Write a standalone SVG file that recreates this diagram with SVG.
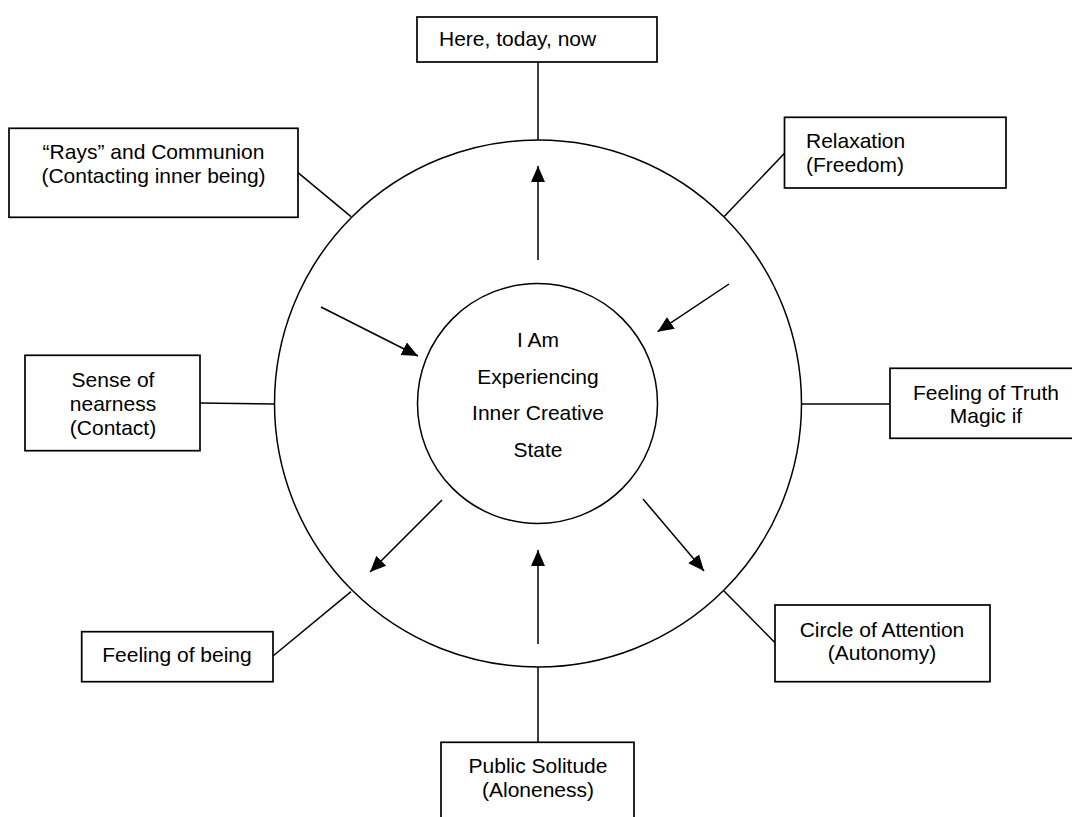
<svg xmlns="http://www.w3.org/2000/svg" width="1072" height="817" viewBox="0 0 1072 817">
<style>
.box{fill:#fff;stroke:#000;stroke-width:1.7}
.ring{fill:none;stroke:#000;stroke-width:1.5}
.ln{fill:none;stroke:#000;stroke-width:1.5}
.ar{fill:none;stroke:#000;stroke-width:1.5;marker-end:url(#ah)}
text{font-family:"Liberation Sans",Arial,sans-serif;font-size:21px;fill:#000}
.c{text-anchor:middle}
</style>
<defs>
<marker id="ah" markerUnits="userSpaceOnUse" markerWidth="18" markerHeight="18" viewBox="0 0 18 18" refX="16" refY="9" orient="auto">
<path d="M0,2 L16,9 L0,16 Z" fill="#000"/>
</marker>
</defs>
<rect width="1072" height="817" fill="#fff"/>
<g id="outer-circle"><circle class="ring" cx="538" cy="403.5" r="263.5"/></g>
<g id="connectors">
<line class="ln" x1="538" y1="62" x2="538" y2="140"/>
<line class="ln" x1="298" y1="172.7" x2="351" y2="216.7"/>
<line class="ln" x1="784.5" y1="153.3" x2="724" y2="216.7"/>
<line class="ln" x1="200" y1="403" x2="275" y2="404"/>
<line class="ln" x1="801" y1="404" x2="890" y2="404"/>
<line class="ln" x1="273" y1="656" x2="351" y2="591.7"/>
<line class="ln" x1="724" y1="591" x2="775" y2="642.7"/>
<line class="ln" x1="538" y1="667" x2="538" y2="742"/>
<line class="ar" x1="538" y1="260" x2="538" y2="166"/>
<line class="ar" x1="729" y1="284" x2="657.6" y2="331.7"/>
<line class="ar" x1="321" y1="307" x2="418" y2="356"/>
<line class="ar" x1="442" y1="500" x2="370" y2="572"/>
<line class="ar" x1="643" y1="499" x2="704" y2="571"/>
<line class="ar" x1="538" y1="644" x2="538" y2="550"/>
</g>
<g id="center">
<circle class="ring" cx="537.5" cy="403.5" r="120"/>
<text class="c" x="538" y="347">I Am</text>
<text class="c" x="538" y="383.5">Experiencing</text>
<text class="c" x="538" y="420">Inner Creative</text>
<text class="c" x="538" y="456.5">State</text>
</g>
<g id="here">
<rect class="box" x="417" y="17" width="240" height="45"/>
<text x="439" y="46">Here, today, now</text>
</g>
<g id="rays">
<rect class="box" x="9" y="128.3" width="289" height="89"/>
<text class="c" x="153.5" y="159">“Rays” and Communion</text>
<text class="c" x="153.5" y="183">(Contacting inner being)</text>
</g>
<g id="relaxation">
<rect class="box" x="784.5" y="117.3" width="221.5" height="70.7"/>
<text x="806" y="148">Relaxation</text>
<text x="806" y="172">(Freedom)</text>
</g>
<g id="sense">
<rect class="box" x="25" y="355.3" width="175" height="95.4"/>
<text class="c" x="113" y="387">Sense of</text>
<text class="c" x="113" y="411">nearness</text>
<text class="c" x="113" y="435">(Contact)</text>
</g>
<g id="truth">
<rect class="box" x="890" y="368.3" width="200" height="70"/>
<text class="c" x="986" y="400">Feeling of Truth</text>
<text class="c" x="986" y="423">Magic if</text>
</g>
<g id="being">
<rect class="box" x="81.7" y="631.7" width="191.3" height="50"/>
<text class="c" x="177" y="662">Feeling of being</text>
</g>
<g id="attention">
<rect class="box" x="775" y="605" width="215" height="76.7"/>
<text class="c" x="882" y="637">Circle of Attention</text>
<text class="c" x="882" y="660">(Autonomy)</text>
</g>
<g id="solitude">
<rect class="box" x="441" y="742.3" width="193" height="90"/>
<text class="c" x="538" y="773">Public Solitude</text>
<text class="c" x="538" y="797">(Aloneness)</text>
</g>
</svg>
